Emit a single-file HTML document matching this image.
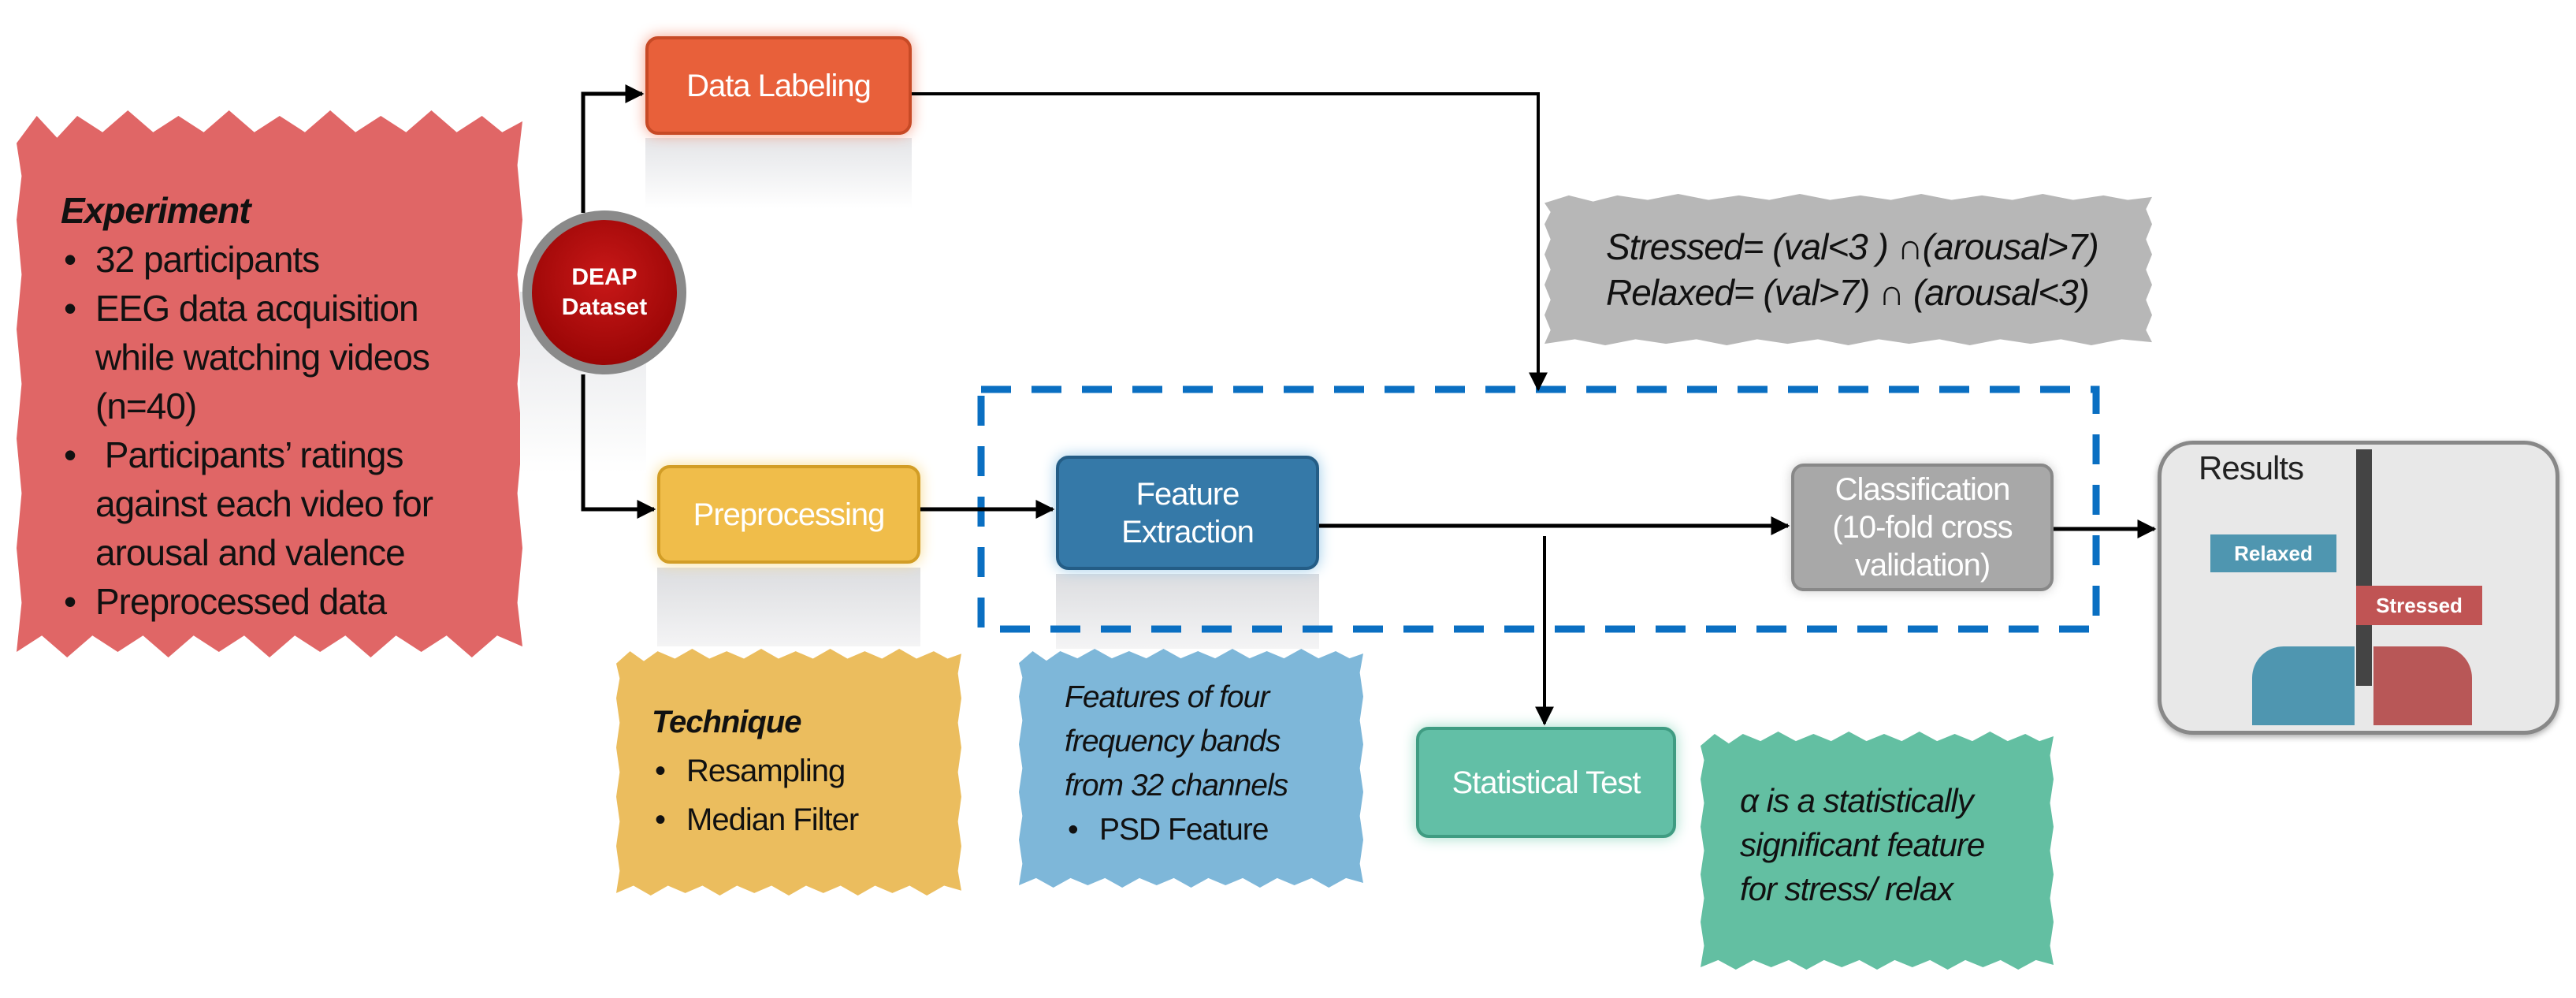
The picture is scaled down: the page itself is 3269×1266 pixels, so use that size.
<!DOCTYPE html>
<html><head><meta charset="utf-8"><style>
body{margin:0;width:3269px;height:1266px;background:#fff;position:relative;overflow:hidden;font-family:"Liberation Sans",sans-serif}
.a{position:absolute}
.blob{position:absolute;clip-path:polygon(0% 6%,4% 1%,8% 5%,12% 1%,17% 4%,22% 0%,27% 4%,32% 1%,37% 4%,42% 0%,47% 4%,52% 1%,57% 4%,62% 0%,67% 4%,72% 1%,77% 4%,82% 0%,87% 4%,92% 1%,96% 4%,100% 2%,99% 10%,100% 20%,99% 30%,100% 40%,99% 50%,100% 60%,99% 70%,100% 80%,99% 90%,100% 98%,95% 96%,90% 100%,85% 96%,80% 99%,75% 96%,70% 100%,65% 96%,60% 99%,55% 96%,50% 100%,45% 96%,40% 99%,35% 96%,30% 100%,25% 96%,20% 99%,15% 96%,10% 100%,5% 96%,0% 99%,1% 90%,0% 80%,1% 70%,0% 60%,1% 50%,0% 40%,1% 30%,0% 20%,1% 12%);color:#111;white-space:nowrap;letter-spacing:-1px}
.box{position:absolute;border-radius:16px;color:#fff;display:flex;align-items:center;justify-content:center;text-align:center;font-size:40px;line-height:1.2;box-sizing:border-box;letter-spacing:-1px}
.b{display:inline-block;width:44px;padding-left:4px;box-sizing:border-box}
</style></head><body>

<div class="blob" style="left:21px;top:140px;width:642px;height:694px;background:#e06666;font-size:46px;line-height:62px;padding:96px 0 0 56px;box-sizing:border-box">
<div style="font-style:italic;font-weight:bold">Experiment</div>
<div><span class="b">•</span>32 participants</div>
<div><span class="b">•</span>EEG data acquisition</div>
<div><span class="b"></span>while watching videos</div>
<div><span class="b"></span>(n=40)</div>
<div><span class="b">•</span> Participants’ ratings</div>
<div><span class="b"></span>against each video for</div>
<div><span class="b"></span>arousal and valence</div>
<div><span class="b">•</span>Preprocessed data</div>
</div>

<div class="blob" style="left:782px;top:823px;width:438px;height:313px;background:#ebbd5e;font-size:40px;line-height:62px;padding:62px 0 0 45px;box-sizing:border-box">
<div style="font-style:italic;font-weight:bold">Technique</div>
<div><span class="b">•</span>Resampling</div><div><span class="b">•</span>Median Filter</div></div>

<div class="blob" style="left:1293px;top:823px;width:437px;height:303px;background:#7eb7d9;font-size:39px;line-height:56px;padding:34px 0 0 58px;box-sizing:border-box">
<i>Features of four<br>frequency bands<br>from 32 channels</i>
<div><span class="b">•</span>PSD Feature</div></div>

<div class="blob" style="left:2158px;top:928px;width:448px;height:302px;background:#63bfa2;font-size:42px;line-height:56px;padding:60px 0 0 50px;box-sizing:border-box;font-style:italic">
α is a statistically<br>significant feature<br>for stress/ relax</div>

<div class="blob" style="left:1960px;top:246px;width:771px;height:192px;background:#b7b7b7;font-size:46px;line-height:58px;padding:38px 0 0 78px;box-sizing:border-box;font-style:italic">
Stressed= (val&lt;3 ) ∩(arousal&gt;7)<br>Relaxed= (val&gt;7) ∩ (arousal&lt;3)</div>

<div class="a" style="left:819px;top:175px;width:338px;height:90px;background:linear-gradient(#e4e5e8,#fff)"></div>
<div class="a" style="left:834px;top:720px;width:334px;height:100px;background:linear-gradient(#dcdde0,#f4f4f5)"></div>
<div class="a" style="left:1340px;top:728px;width:334px;height:95px;background:linear-gradient(#dcdde0,#f4f4f5)"></div>

<div class="box" style="left:819px;top:46px;width:338px;height:125px;background:#e8603a;border:4px solid #c74a26;box-shadow:0 0 18px #f5a08a">Data Labeling</div>
<div class="box" style="left:834px;top:590px;width:334px;height:125px;background:#f0bd4a;border:4px solid #d29d26;box-shadow:0 0 18px #f8dc90">Preprocessing</div>
<div class="box" style="left:1340px;top:578px;width:334px;height:145px;background:#3579a8;border:4px solid #245d86;box-shadow:0 0 18px #9ccbe8">Feature<br>Extraction</div>
<div class="box" style="left:2273px;top:588px;width:333px;height:162px;background:#a8a8a8;border:4px solid #888;box-shadow:0 0 14px #ccc">Classification<br>(10-fold cross<br>validation)</div>
<div class="box" style="left:1797px;top:922px;width:330px;height:141px;background:#62bfa6;border:4px solid #3f9c82;box-shadow:0 0 18px #9fdcc8">Statistical Test</div>

<div class="a" style="left:660px;top:370px;width:160px;height:230px;background:linear-gradient(#e4e5e8,#fff)"></div>
<div class="a" style="left:663px;top:267px;width:208px;height:208px;border-radius:50%;background:#8a8a8a;"></div>
<div class="a" style="left:675px;top:279px;width:184px;height:184px;border-radius:50%;background:radial-gradient(circle at 50% 40%,#c81818,#8c0000);color:#fff;font-weight:bold;font-size:30px;text-align:center;line-height:38px;display:flex;align-items:center;justify-content:center">DEAP<br>Dataset</div>

<div class="a" style="left:2738px;top:559px;width:510px;height:373px;border-radius:45px;border:5px solid #888;background:#e8e8e8;box-sizing:border-box;box-shadow:0 3px 8px #aaa"></div>
<div class="a" style="left:2790px;top:570px;font-size:42px;color:#222;letter-spacing:-1px">Results</div>
<div class="a" style="left:2990px;top:570px;width:20px;height:300px;background:#444"></div>
<div class="a" style="left:2805px;top:678px;width:160px;height:48px;background:#4f96b0;color:#fff;font-weight:bold;font-size:26px;line-height:48px;text-align:center">Relaxed</div>
<div class="a" style="left:2990px;top:743px;width:160px;height:50px;background:#c05454;color:#fff;font-weight:bold;font-size:26px;line-height:50px;text-align:center">Stressed</div>
<div class="a" style="left:2858px;top:820px;width:130px;height:100px;background:#4f96b0;border-radius:40px 0 0 0"></div>
<div class="a" style="left:3012px;top:820px;width:125px;height:100px;background:#b85757;border-radius:0 40px 0 0"></div>

<svg class="a" style="left:0;top:0" width="3269" height="1266">
<defs>
<marker id="M" viewBox="0 0 10 10" refX="9" refY="5" markerWidth="24" markerHeight="24" markerUnits="userSpaceOnUse" orient="auto"><path d="M0,0L10,5L0,10z" fill="#000"/></marker></defs>
<rect x="1245" y="494" width="1415" height="304" fill="none" stroke="#0a6fc2" stroke-width="9" stroke-dasharray="38,26"/>
<g stroke="#000" stroke-width="5" fill="none">
<path d="M740 270V119H815" marker-end="url(#M)"/>
<path d="M740 475V646H830" marker-end="url(#M)"/>
<path d="M1157 119H1952V494" marker-end="url(#M)" stroke-width="4"/>
<path d="M1168 646H1336" marker-end="url(#M)"/>
<path d="M1674 667H2269" marker-end="url(#M)"/>
<path d="M1960 680V918" marker-end="url(#M)" stroke-width="4"/>
<path d="M2606 671H2734" marker-end="url(#M)"/>
</g>
</svg>
</body></html>
